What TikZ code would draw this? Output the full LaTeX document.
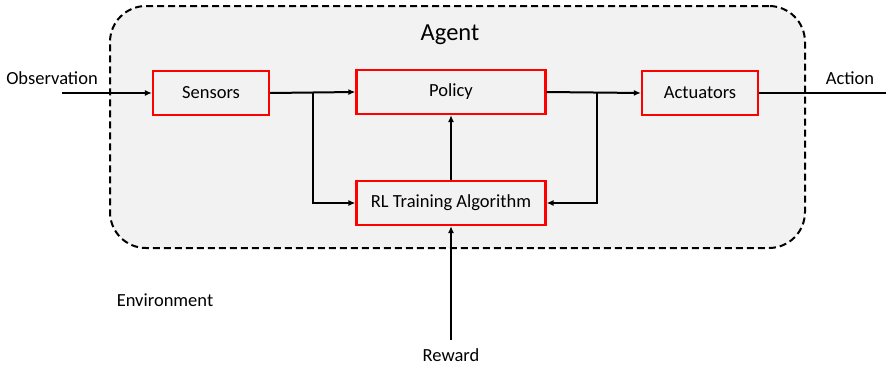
\documentclass[tikz,border=0pt]{standalone}
\usepackage{fontspec}
\setmainfont{Carlito}
\usetikzlibrary{arrows.meta}
\begin{document}
\begin{tikzpicture}[x=1pt,y=-1pt,
  blk/.style={draw=red, line width=2.2pt, minimum height=44pt, inner sep=0pt, font=\fontsize{18.5}{21}\selectfont, fill=none},
  conn/.style={line width=2pt, -{Latex[length=7pt,width=6pt]}},
  lbl/.style={font=\fontsize{18.5}{21}\selectfont, inner sep=0pt}]
\useasboundingbox (0,0) rectangle (886,370);
\node[draw=black, dashed, dash pattern=on 7pt off 4pt, line width=2pt, fill=black!5, rounded corners=36pt, minimum width=695pt, minimum height=242pt, inner sep=0pt] (agent) at (457.5,127) {};
\node[font=\fontsize{24.5}{28}\selectfont, inner sep=0pt] (agentlbl) at (450,35) {Agent};
\node[blk, minimum width=116pt] (sens) at (211,93) {Sensors};
\node[blk, minimum width=189pt] (pol) at (451,92) {Policy};
\node[blk, minimum width=116pt] (act) at (700,93) {Actuators};
\node[blk, minimum width=189pt] (rl) at (451,203) {RL Training Algorithm};
\node[lbl] (obs) at (52,78) {Observation};
\node[lbl] (actlbl) at (850,78) {Action};
\node[lbl] (env) at (165,300) {Environment};
\node[lbl] (rew) at (451,355) {Reward};
\coordinate (obsin) at (62,93);
\coordinate (actout) at (886,93);
\coordinate (rewin) at (451,340);
\coordinate (b1) at (313,93);
\coordinate (b2) at (597,92);
\draw[conn] (obsin) -- (sens.west);
\draw[conn] (sens.east) -- (pol.west);
\draw[conn] (b1) |- (rl.west);
\draw[conn] (pol.east) -- (act.west);
\draw[conn] (b2) |- (rl.east);
\draw[conn] (rl.north) -- (pol.south);
\draw[conn] (rewin) -- (rl.south);
\draw[line width=2pt] (act.east) -- (actout);
\end{tikzpicture}
\end{document}
